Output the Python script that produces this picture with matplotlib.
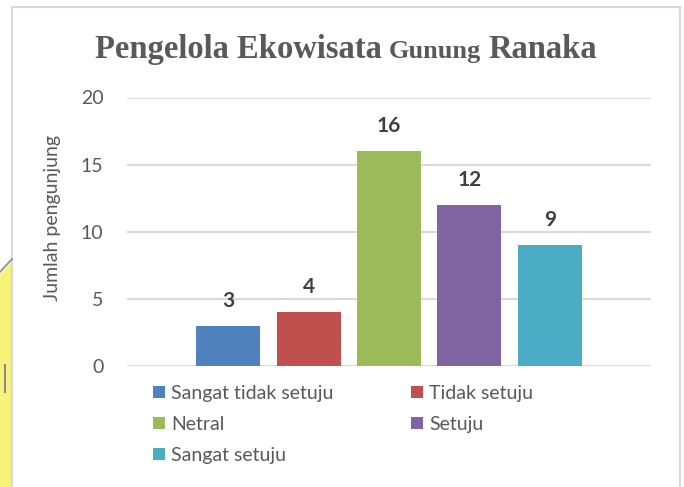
import matplotlib.pyplot as plt
from matplotlib.patches import Rectangle, Polygon

categories = ['Sangat tidak setuju', 'Tidak setuju', 'Netral', 'Setuju', 'Sangat setuju']
values = [3, 4, 16, 12, 9]
colors = ['#4F81BD', '#C0504D', '#9BBB59', '#8064A2', '#4BACC6']
yticks = [0, 5, 10, 15, 20]
title_parts = [('Pengelola Ekowisata', 23.5), ('Gunung', 19), ('Ranaka', 23.5)]

W, H = 684, 487
fig = plt.figure(figsize=(W / 100, H / 100), dpi=100)

# yellow watermark remains on the far left, outside the chart frame
bg = fig.add_axes([0, 0, 1, 1], zorder=-5)
bg.set_xlim(0, W)
bg.set_ylim(H, 0)
bg.axis('off')
bg.add_patch(Polygon([(0, 275), (12, 262), (12, H), (0, H)], closed=True,
                     facecolor='#F7F27A', edgecolor='none'))
bg.plot([0, 12], [272, 259], color='#9A9A9A', lw=1.5)
bg.plot([5, 5], [365, 392], color='#8A8A8A', lw=1.5)
bg.add_patch(Rectangle((12, 7), 668, H, facecolor='white', edgecolor='#D9D9D9', lw=1.5))

ax = fig.add_axes([127 / W, 1 - 366 / H, (651 - 127) / W, (366 - 97.5) / H])
xs = [1, 2, 3, 4, 5]
bars = ax.bar(xs, values, width=0.795, color=colors, zorder=3)
ax.set_xlim(-0.255, 6.255)
ax.set_ylim(0, 20)
ax.set_yticks(yticks)
ax.set_xticks([])
ax.grid(axis='y', color='#D9D9D9', lw=1.5, zorder=0)
for s in ax.spines.values():
    s.set_visible(False)
ax.tick_params(axis='y', length=0, pad=17, labelsize=14, labelcolor='#595959')
for t in ax.get_yticklabels():
    t.set_family('Lato')

fig.text(53 / W, 1 - 218 / H, 'Jumlah pengunjung', rotation=90, ha='center', va='center',
         family='Lato', fontsize=14, color='#595959')

for x, v in zip(xs, values):
    ax.annotate(str(v), (x, v), xytext=(0, 18), textcoords='offset points',
                ha='center', va='center', fontsize=15, fontweight='bold',
                family='Lato', color='#404040')

# title with smaller middle word, laid out one piece after another
renderer = fig.canvas.get_renderer()
pieces = []
xpos = 0
for txt, size in title_parts:
    t = fig.text(xpos / W, 1 - 58 / H, txt, family='Liberation Serif', fontweight='bold',
                 fontsize=size, color='#595959', ha='left', va='baseline')
    bb = t.get_window_extent(renderer)
    pieces.append((t, xpos))
    xpos += bb.width + 7
total = xpos - 7
start = 346 - total / 2
for t, px in pieces:
    t.set_x((start + px) / W)

order = [0, 2, 4, 1, 3]
leg = fig.legend([bars[i] for i in order], [categories[i] for i in order],
                 ncol=2, loc='upper left', bbox_to_anchor=(153 / W, 1 - 385 / H),
                 frameon=False, borderpad=0, borderaxespad=0,
                 handlelength=0.62, handleheight=0.62, handletextpad=0.3,
                 columnspacing=4.0, labelspacing=0.72,
                 prop={'family': 'Lato', 'size': 14})
for t in leg.get_texts():
    t.set_color('#595959')

fig.savefig('out.png', dpi=100)
